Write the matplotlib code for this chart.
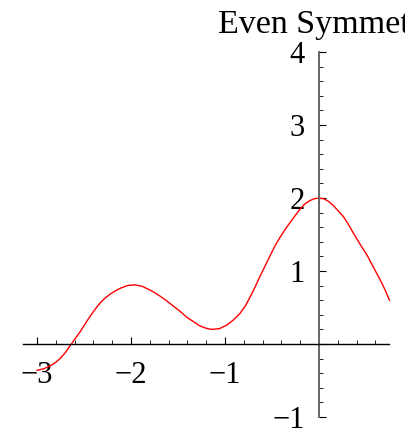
import numpy as np
import matplotlib
matplotlib.use("Agg")
import matplotlib.pyplot as plt
from matplotlib.ticker import FixedLocator

# Curve samples (x, y)
x_vals = [-3.00, -2.93, -2.86, -2.80, -2.755, -2.70, -2.64, -2.59, -2.54, -2.49,
          -2.44, -2.385, -2.33, -2.28, -2.22, -2.17, -2.12, -2.04, -1.96, -1.88,
          -1.80, -1.75, -1.69, -1.62, -1.55, -1.48, -1.41, -1.34, -1.27, -1.20,
          -1.14, -1.06, -0.98, -0.91, -0.84, -0.78, -0.73, -0.68, -0.63, -0.575,
          -0.52, -0.47, -0.415, -0.36, -0.31, -0.25, -0.20, -0.15, -0.096, -0.05,
          0.00, 0.05, 0.10, 0.15, 0.20, 0.26, 0.31, 0.365, 0.44, 0.51,
          0.58, 0.65, 0.70, 0.75]
y_vals = [-0.36, -0.34, -0.30, -0.25, -0.20, -0.12, -0.01, 0.08, 0.17, 0.27,
          0.37, 0.47, 0.56, 0.625, 0.685, 0.725, 0.76, 0.80, 0.81, 0.79,
          0.74, 0.705, 0.655, 0.59, 0.52, 0.45, 0.37, 0.31, 0.25, 0.215,
          0.20, 0.21, 0.26, 0.33, 0.42, 0.53, 0.65, 0.78, 0.92, 1.065,
          1.21, 1.34, 1.46, 1.57, 1.66, 1.765, 1.85, 1.92, 1.965, 1.99,
          2.00, 1.99, 1.955, 1.90, 1.83, 1.745, 1.645, 1.52, 1.36, 1.22,
          1.05, 0.88, 0.75, 0.60]

x_ticks = [-3, -2, -1]
x_tick_labels = ["\u22123", "\u22122", "\u22121"]
y_ticks = [-1, 0, 1, 2, 3, 4]
y_tick_labels = ["\u22121", "", "1", "2", "3", "4"]
title = "Even Symmetric"

W, H, DPI = 406, 429, 100
fig = plt.figure(figsize=(W / DPI, H / DPI), dpi=DPI)
ax = fig.add_axes([0, 0, 1, 1])

# origin at (319, 344) px, 94 px per x unit, 73 px per y unit
x0_px, y0_px, sx, sy = 319.0, 344.0, 94.0, 73.0
ax.set_xlim((0 - x0_px) / sx, (W - x0_px) / sx)
ax.set_ylim((y0_px - H) / sy, (y0_px - 0) / sy)

ax.plot(x_vals, y_vals, color="#ff0000", lw=1.0, clip_on=False,
        solid_joinstyle="round")

for side in ("top", "right"):
    ax.spines[side].set_visible(False)
ax.spines["bottom"].set_position(("data", 0))
ax.spines["left"].set_position(("data", 0))
ax.spines["bottom"].set_bounds(-3.15, 0.745)
ax.spines["left"].set_bounds(-1, 4)
ax.spines["bottom"].set_linewidth(1.0)
ax.spines["left"].set_linewidth(1.4)
ax.spines["left"].set_color("#666666")

serif = ["Liberation Serif", "DejaVu Serif"]

ax.xaxis.set_major_locator(FixedLocator(x_ticks))
ax.xaxis.set_minor_locator(FixedLocator(
    [v for v in np.arange(-3.0, 0.75, 0.2) if all(abs(v - t) > 1e-6 for t in x_ticks)]))
ax.set_xticklabels(x_tick_labels, family=serif, fontsize=22)
ax.tick_params(axis="x", which="major", direction="in", length=5, width=0.8,
               pad=12, colors="black")
ax.tick_params(axis="x", which="minor", direction="in", length=3, width=0.6)

ax.yaxis.set_major_locator(FixedLocator(y_ticks))
ax.yaxis.set_minor_locator(FixedLocator(
    [v for v in np.arange(-1.0, 4.0, 0.2) if all(abs(v - t) > 1e-6 for t in y_ticks)]))
ax.set_yticklabels(y_tick_labels, family=serif, fontsize=22)
ax.tick_params(axis="y", which="major", direction="in", length=5, width=0.8,
               pad=10, colors="black")
ax.tick_params(axis="y", which="minor", direction="in", length=3, width=0.6)

ax.patch.set_visible(False)

fig.text(218 / W, 1 - 33 / H, title, family=serif, fontsize=24.5,
         ha="left", va="baseline")

fig.savefig("out.png", dpi=DPI)
